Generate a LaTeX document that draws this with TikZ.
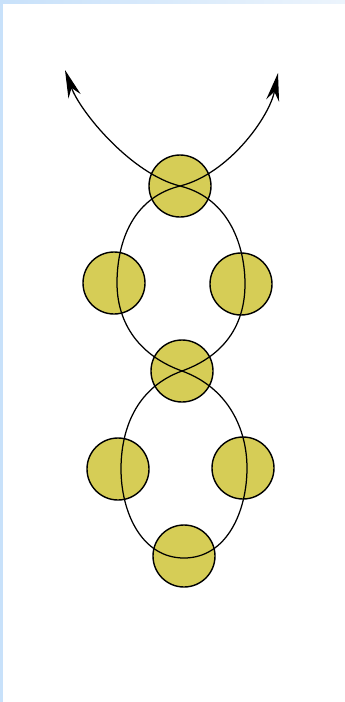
\documentclass[tikz,border=0pt]{standalone}
\usetikzlibrary{arrows.meta}
\definecolor{ballfill}{RGB}{214,205,86}
\definecolor{edgeblue}{RGB}{200,225,250}
\definecolor{edgepale}{RGB}{236,244,252}
\tikzset{
  ball/.style={circle, draw=black, line width=1.4pt, fill=ballfill, minimum size=62pt, inner sep=0pt},
  strand/.style={draw=black, line width=1.25pt},
  tipstyle/.style={-{Stealth[length=28pt, width=13pt, inset=9pt]}}
}
\begin{document}
\begin{tikzpicture}[x=1pt,y=1pt]
\useasboundingbox (0,0) rectangle (345,-702);
\fill[white] (0,0) rectangle (345,-702);
\fill[edgeblue] (0,0) rectangle (3,-702);
\shade[left color=edgeblue, right color=edgepale] (0,0) rectangle (345,-3);

% balls
\node[ball] (c1) at (180,-186) {};
\node[ball] (c2) at (114,-283) {};
\node[ball] (c3) at (241,-284) {};
\node[ball] (c4) at (182,-371) {};
\node[ball] (c5) at (118,-469) {};
\node[ball] (c6) at (243,-468) {};
\node[ball] (c7) at (184,-556) {};

% curve points
\coordinate (tipL) at (65,-70);
\coordinate (tipR) at (278,-73);
\coordinate (L1) at ([xshift=3pt]c2.center);
\coordinate (R1) at ([xshift=4pt]c3.center);
\coordinate (L2) at ([xshift=3pt]c5.center);
\coordinate (R2) at ([xshift=4pt]c6.center);
\coordinate (B) at ([yshift=-2pt]c7.center);

\draw[strand, tipstyle] (c1.center) to[out=-14, in=90, out distance=52pt, in distance=36pt] (R1)
  to[out=-90, in=20, out distance=36pt, in distance=50pt] (c4.center)
  to[out=-160, in=90, out distance=50pt, in distance=38pt] (L2)
  to[out=-90, in=180] (B)
  to[out=0, in=-90] (R2)
  to[out=90, in=-20, out distance=38pt, in distance=50pt] (c4.center)
  to[out=160, in=-90, out distance=50pt, in distance=36pt] (L1)
  to[out=90, in=-166, out distance=36pt, in distance=52pt] (c1.center)
  to[out=14, in=-101, out distance=50pt, in distance=45pt] (tipR);
\draw[strand, tipstyle] (c1.center) to[out=166, in=-70, out distance=50pt, in distance=45pt] (tipL);
\end{tikzpicture}
\end{document}
